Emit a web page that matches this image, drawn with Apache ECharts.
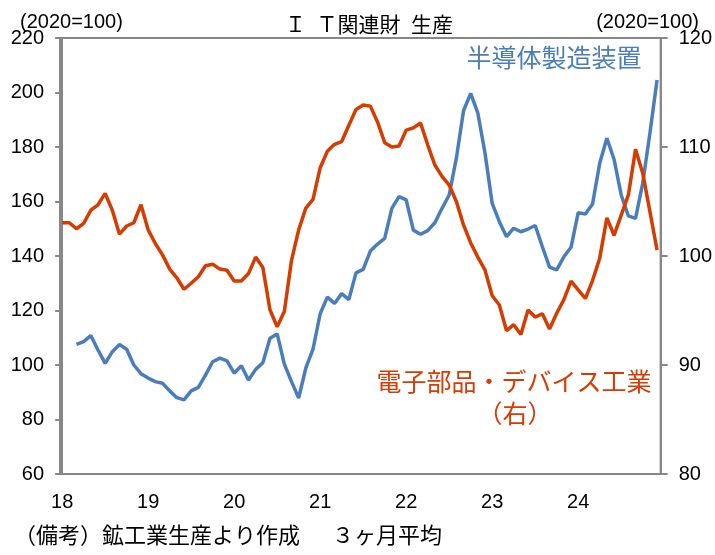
<!DOCTYPE html>
<html>
<head>
<meta charset="utf-8">
<script src="https://cdn.jsdelivr.net/npm/echarts@6/dist/echarts.min.js"></script>
<style>
  html, body { margin: 0; padding: 0; background: #fff; }
  #chart { width: 715px; height: 555px; }
</style>
</head>
<body>
<div id="chart"></div>
<script>
// 月次 2018年1月〜2024年12月（3ヶ月平均）
const yearLabels = ['18', '19', '20', '21', '22', '23', '24'];

// 半導体製造装置（左軸） 2018年1,2月はなし
const semiEquip = [
  '-', '-', 107.6, 108.6, 110.8, 105.5, 100.6, 104.9, 107.5, 105.8, 100.0, 96.8,
  95.2, 93.9, 93.3, 90.5, 88.0, 87.2, 90.5, 91.8, 96.3, 101.2, 102.5, 101.5,
  97.0, 99.7, 94.5, 98.4, 100.8, 109.8, 111.4, 100.3, 93.9, 87.9, 98.9, 105.8,
  118.8, 124.9, 122.6, 126.2, 124.0, 133.8, 135.1, 141.8, 144.4, 146.5, 157.5, 161.8,
  160.6, 149.5, 148.0, 149.3, 152.2, 157.5, 162.4, 175.9, 193.3, 199.7, 192.4, 177.7,
  159.3, 152.6, 147.1, 150.2, 148.9, 149.9, 151.2, 143.4, 135.9, 134.9, 139.7, 143.2,
  155.9, 155.4, 159.1, 174.0, 183.2, 175.5, 162.4, 154.7, 153.8, 166.7, 185.0, 204.6
];

// 電子部品・デバイス工業（右軸）
const elecParts = [
  103.05, 103.05, 102.5, 103.0, 104.2, 104.7, 105.75, 104.2, 102.0, 102.75, 103.05, 104.7,
  102.4, 101.15, 100.1, 98.8, 98.0, 96.95, 97.5, 98.1, 99.1, 99.25, 98.8, 98.7,
  97.7, 97.7, 98.4, 99.9, 98.95, 95.05, 93.5, 94.9, 99.6, 102.4, 104.4, 105.2,
  108.1, 109.6, 110.25, 110.5, 112.0, 113.45, 113.85, 113.75, 112.3, 110.4, 110.0, 110.1,
  111.55, 111.75, 112.2, 110.2, 108.35, 107.3, 106.5, 105.0, 102.85, 101.2, 99.9, 98.7,
  96.35, 95.5, 93.15, 93.7, 92.8, 95.05, 94.4, 94.7, 93.3, 94.75, 96.0, 97.7,
  96.9, 96.1, 97.75, 99.8, 103.5, 101.9, 103.75, 105.6, 109.8, 107.6, 104.1, 100.55
];

const BLUE = '#4A7EBB';
const RED = '#D63B00';
const AXIS = '#888888';
const JP = '"Noto Sans CJK JP", sans-serif';
const NUM = '"Liberation Sans", Arial, sans-serif';

const chart = echarts.init(document.getElementById('chart'));

const option = {
  animation: false,
  grid: {
    left: 60, right: 54, top: 38, bottom: 81,
    show: true, borderColor: AXIS, borderWidth: 2
  },
  xAxis: {
    type: 'value',
    min: -0.3,
    max: 83.5,
    axisLine: { show: true, lineStyle: { color: AXIS, width: 2 } },
    axisTick: { show: false },
    splitLine: { show: false },
    axisLabel: {
      customValues: yearLabels.map((_, i) => i * 12),
      formatter: v => yearLabels[Math.round(v / 12)],
      color: '#000', fontSize: 20, fontFamily: NUM, margin: 18
    }
  },
  yAxis: [
    {
      type: 'value', min: 60, max: 220, interval: 20,
      axisLine: { show: true, lineStyle: { color: AXIS, width: 2 } },
      axisTick: { show: true, inside: false, length: 7, lineStyle: { color: AXIS, width: 2 } },
      splitLine: { show: false },
      axisLabel: { color: '#000', fontSize: 20, fontFamily: NUM, margin: 16 }
    },
    {
      type: 'value', min: 80, max: 120, interval: 10, position: 'right',
      axisLine: { show: true, lineStyle: { color: AXIS, width: 2 } },
      axisTick: { show: true, inside: false, length: 7, lineStyle: { color: AXIS, width: 2 } },
      splitLine: { show: false },
      axisLabel: { color: '#000', fontSize: 20, fontFamily: NUM, margin: 18 }
    }
  ],
  series: [
    {
      name: '半導体製造装置',
      type: 'line',
      yAxisIndex: 0,
      data: semiEquip.map((v, i) => [i, v]),
      showSymbol: false,
      lineStyle: { color: BLUE, width: 3.5 },
      itemStyle: { color: BLUE }
    },
    {
      name: '電子部品・デバイス工業',
      type: 'line',
      yAxisIndex: 1,
      data: elecParts.map((v, i) => [i, v]),
      showSymbol: false,
      lineStyle: { color: RED, width: 3.5 },
      itemStyle: { color: RED }
    }
  ],
  graphic: [
    { type: 'text', left: 20, top: 12,
      style: { text: '(2020=100)', font: '20px ' + NUM, fill: '#000' } },
    { type: 'text', right: 16, top: 12,
      style: { text: '(2020=100)', font: '20px ' + NUM, fill: '#000' } },
    { type: 'text', x: 369, y: 24,
      style: { text: 'Ｉ\u2002Ｔ関連財\u2002生産', font: '21px ' + JP, fill: '#000', align: 'center', verticalAlign: 'middle' } },
    { type: 'text', x: 554, y: 57,
      style: { text: '半導体製造装置', font: '25px ' + JP, fill: BLUE, align: 'center', verticalAlign: 'middle' } },
    { type: 'text', x: 514, y: 381,
      style: { text: '電子部品・デバイス工業', font: '25px ' + JP, fill: RED, align: 'center', verticalAlign: 'middle' } },
    { type: 'text', x: 515, y: 413,
      style: { text: '（右）', font: '25px ' + JP, fill: RED, align: 'center', verticalAlign: 'middle' } },
    { type: 'text', x: 14, y: 535,
      style: { text: '（備考）鉱工業生産より作成', font: '22px ' + JP, fill: '#000', verticalAlign: 'middle' } },
    { type: 'text', x: 332, y: 535,
      style: { text: '３ヶ月平均', font: '22px ' + JP, fill: '#000', verticalAlign: 'middle' } }
  ]
};

chart.setOption(option);
</script>
</body>
</html>
